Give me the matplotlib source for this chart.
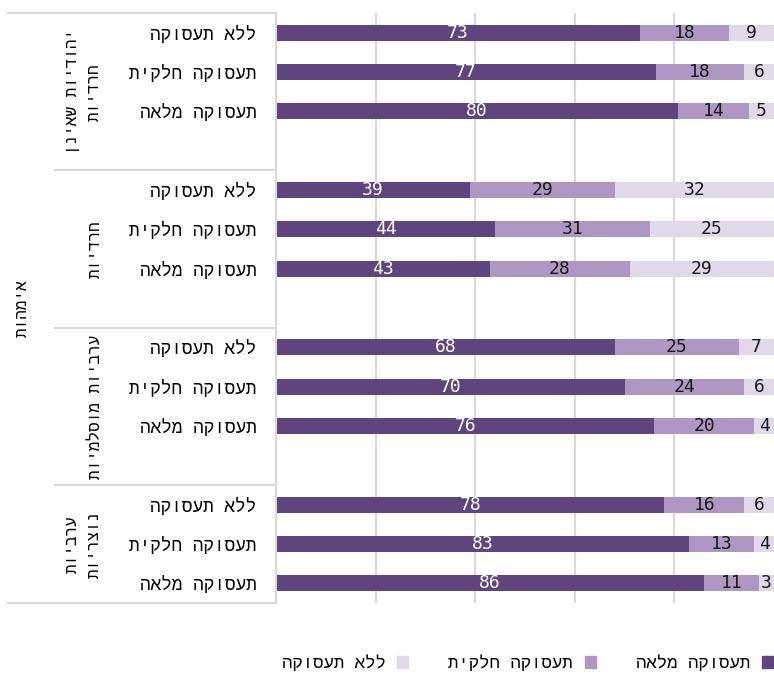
import matplotlib
matplotlib.use('Agg')
import matplotlib.pyplot as plt
from matplotlib.patches import Patch
from matplotlib.transforms import blended_transform_factory

plt.rcParams['font.family'] = ['DejaVu Sans Mono', 'Liberation Mono']
plt.rcParams['font.size'] = 13


def rtl(s):
    # matplotlib has no bidi support, so flip each line by hand
    return '\n'.join(line[::-1] for line in s.split('\n'))


# data
outer_label = 'אימהות'
groups = ['יהודיות שאינן\nחרדיות', 'חרדיות', 'ערביות מוסלמיות', 'ערביות\nנוצריות']
rows = ['ללא תעסוקה', 'תעסוקה חלקית', 'תעסוקה מלאה']
series = ['תעסוקה מלאה', 'תעסוקה חלקית', 'ללא תעסוקה']
full = [73, 77, 80, 39, 44, 43, 68, 70, 76, 78, 83, 86]
partial = [18, 18, 14, 29, 31, 28, 25, 24, 20, 16, 13, 11]
no_emp = [9, 6, 5, 32, 25, 29, 7, 6, 4, 6, 4, 3]
colors = ['#5f457d', '#ae97c3', '#e1d9ea']
text_colors = ['white', '#1a1a1a', '#1a1a1a']

W, H = 774, 683
fig = plt.figure(figsize=(W / 100, H / 100), dpi=100)
ax = fig.add_axes([276 / W, 1 - 603 / H, 1 - 276 / W, (603 - 13) / H])

ypos = [g * 4 + i for g in range(len(groups)) for i in range(len(rows))]
data = [full, partial, no_emp]
totals = [a + b + c for a, b, c in zip(full, partial, no_emp)]

left = [0.0] * len(ypos)
for k, vals in enumerate(data):
    widths = [v / t * 100 for v, t in zip(vals, totals)]
    ax.barh(ypos, widths, left=left, height=0.4, color=colors[k], zorder=2)
    for y, l, w, v in zip(ypos, left, widths, vals):
        ax.text(l + w / 2, y, str(v), ha='center', va='center',
                color=text_colors[k], fontsize=13, zorder=3)
    left = [l + w for l, w in zip(left, widths)]

y_end = len(groups) * 4 - 1.5
ax.set_xlim(0, 100)
ax.set_ylim(y_end, -0.5)
ax.set_xticks([20, 40, 60, 80])
ax.set_xticklabels([])
ax.tick_params(axis='x', length=0)
ax.grid(axis='x', color='#d9d9d9', linewidth=1.5, zorder=0)
ax.set_axisbelow(True)
ax.set_yticks(ypos)
ax.set_yticklabels([rtl(r) for _ in groups for r in rows], fontsize=12.8)
ax.tick_params(axis='y', length=0, pad=14)
for s in ['top', 'right', 'bottom']:
    ax.spines[s].set_visible(False)
ax.spines['left'].set_color('#d9d9d9')
ax.spines['left'].set_linewidth(1.5)

# table-like category frame on the left
tr = blended_transform_factory(fig.transFigure, ax.transData)
for yb in [3.5, 7.5, 11.5]:
    fig.add_artist(plt.Line2D([55 / W, 276 / W], [yb, yb], transform=tr,
                              color='#d9d9d9', linewidth=1.5))
for yb in [-0.5, y_end]:
    fig.add_artist(plt.Line2D([8 / W, 276 / W], [yb, yb], transform=tr,
                              color='#d9d9d9', linewidth=1.5))

for g, name in enumerate(groups):
    top = g * 4 - 0.5
    bottom = min(g * 4 + 3.5, y_end)
    xg = 83 if '\n' in name else 95
    fig.text(xg / W, (top + bottom) / 2, rtl(name), transform=tr, rotation=90,
             ha='center', va='center', multialignment='center',
             linespacing=1.55, fontsize=11.5)
fig.text(22 / W, (y_end - 0.5) / 2, rtl(outer_label), transform=tr,
         rotation=90, ha='center', va='center', fontsize=11.5)

handles = [Patch(color=colors[k]) for k in [2, 1, 0]]
labels = [rtl(series[k]) for k in [2, 1, 0]]
fig.legend(handles, labels, ncol=3, loc='center right',
           bbox_to_anchor=(773 / W, 1 - 663 / H), frameon=False,
           markerfirst=False, handlelength=0.63, handleheight=0.63,
           handletextpad=0.69, columnspacing=2.3, borderpad=0,
           borderaxespad=0, fontsize=12.5)

fig.savefig('out.png', dpi=100)
